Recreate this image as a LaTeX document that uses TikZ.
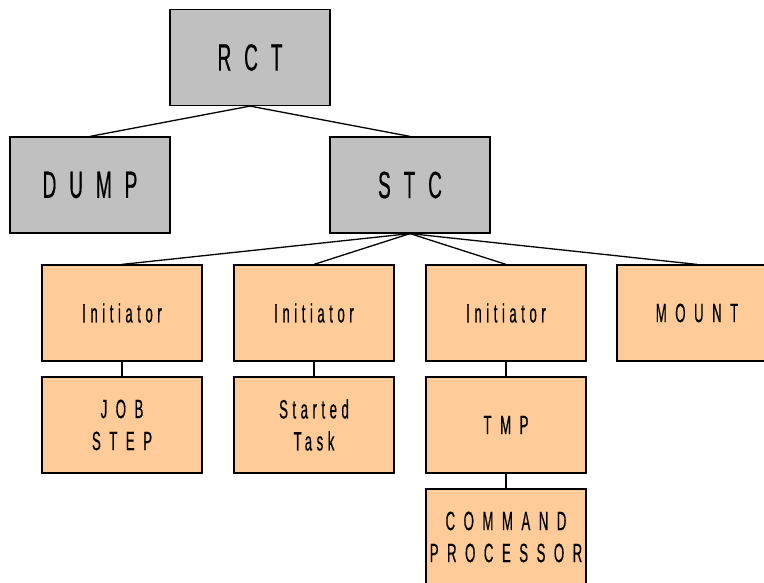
\documentclass[tikz,border=0pt]{standalone}
\usepackage{fontspec}
\setmainfont{Liberation Sans}[FakeStretch=0.5]
\newfontfamily\bigfont{Liberation Sans}[FakeStretch=0.5, FakeBold=0.4, LetterSpace=34]
\newfontfamily\capfont{Liberation Sans}[FakeStretch=0.5, FakeBold=0.4, LetterSpace=32]
\newfontfamily\lowfont{Liberation Sans}[FakeStretch=0.5, FakeBold=0.4, LetterSpace=17]
\definecolor{boxgray}{RGB}{192,192,192}
\definecolor{peach}{RGB}{255,204,153}

\begin{document}
\begin{tikzpicture}[x=1pt, y=-1pt,
        graybox/.style={draw=black, fill=boxgray, line width=1.2pt, minimum width=160pt, minimum height=96pt, inner sep=0pt, font=\bigfont\fontsize{38}{45}\selectfont},
        peachbox/.style={draw=black, fill=peach, line width=1.2pt, minimum width=160pt, minimum height=96pt, inner sep=0pt, align=center},
        captext/.style={font=\capfont\fontsize{26.5}{32}\selectfont},
        lowtext/.style={font=\lowfont\fontsize{26.5}{32}\selectfont},
        link/.style={black, line width=1.3pt}]

                \useasboundingbox (0,0) rectangle (764,583);

                \node[graybox] (rct) at (250,57.5) {RCT};
                \node[graybox] (dump) at (90,185) {DUMP};
                \node[graybox] (stc) at (410,185) {STC};
                \node[peachbox, lowtext] (inita) at (122,313) {Initiator};
                \node[peachbox, lowtext] (initb) at (314,313) {Initiator};
                \node[peachbox, lowtext] (initc) at (506,313) {Initiator};
                \node[peachbox, captext] (mount) at (697,313) {MOUNT};
                \node[peachbox, captext] (job) at (122,425) {JOB\\STEP};
                \node[peachbox, lowtext] (started) at (314,425) {Started\\Task};
                \node[peachbox, captext] (tmp) at (506,425) {TMP};
                \node[peachbox, label={[captext, align=center]center:COMMAND\\PROCESSOR}] (cmd) at (506,537) {};

                \draw[link] (rct.south)--(dump.north);
                \draw[link] (rct.south)--(stc.north);
                \draw[link] (stc.south)--(inita.north);
                \draw[link] (stc.south)--(initb.north);
                \draw[link] (stc.south)--(initc.north);
                \draw[link] (stc.south)--(mount.north);
                \draw[link] (inita)--(job);
                \draw[link] (initb)--(started);
                \draw[link] (initc)--(tmp);
                \draw[link] (tmp)--(cmd);

\end{tikzpicture}
\end{document}
